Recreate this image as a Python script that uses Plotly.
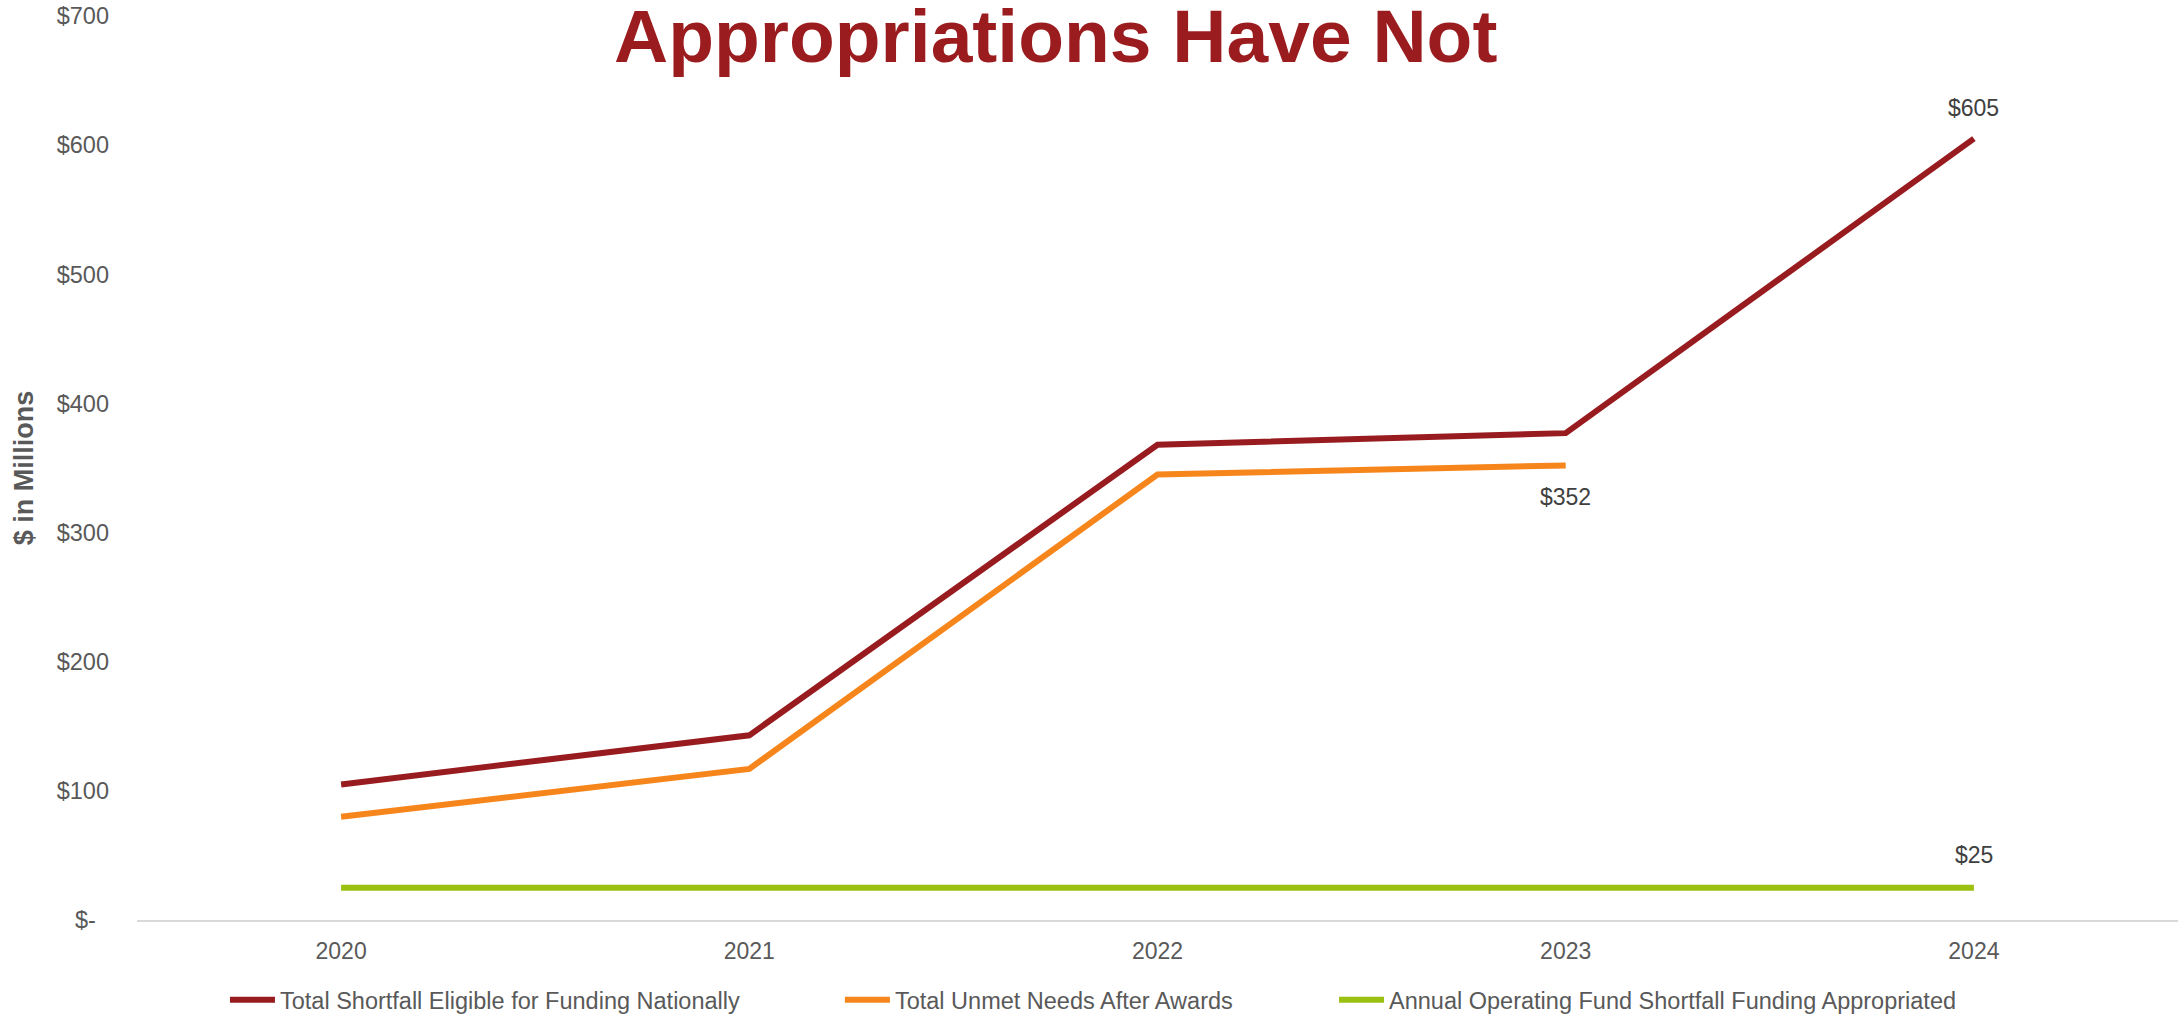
import plotly.graph_objects as go

# Funding data ($ in millions)
years = ["2020", "2021", "2022", "2023", "2024"]
total_shortfall = [105, 143, 368, 377, 605]
unmet_needs = [80, 117, 345, 352, None]
appropriated = [25, 25, 25, 25, 25]

series_names = [
    "Total Shortfall Eligible for Funding Nationally",
    "Total Unmet Needs After Awards",
    "Annual Operating Fund Shortfall Funding Appropriated",
]

y_tick_values = [0, 100, 200, 300, 400, 500, 600, 700]
y_tick_labels = ["$-\u00a0\u00a0", "$100", "$200", "$300", "$400", "$500", "$600", "$700"]

title_text = "Appropriations Have Not"

RED = "#981C1F"
ORANGE = "#F6861C"
GREEN = "#9CC00F"
FONT = "Liberation Sans, Arial, sans-serif"
LINE_W = 6

fig = go.Figure()
series = [
    (total_shortfall, series_names[0], RED, "legend"),
    (unmet_needs, series_names[1], ORANGE, "legend2"),
    (appropriated, series_names[2], GREEN, "legend3"),
]
for values, name, color, leg in series:
    fig.add_trace(go.Scatter(
        x=years, y=values, name=name, mode="lines",
        line=dict(color=color, width=LINE_W),
        legend=leg, connectgaps=False,
    ))

# Value labels on selected points: (series values, index, vertical offset)
value_labels = [
    (total_shortfall, 4, 31),
    (unmet_needs, 3, -32),
    (appropriated, 4, 33),
]
for values, idx, shift in value_labels:
    v = values[idx]
    # category axis: numeric x is the category index of years[idx]
    fig.add_annotation(
        x=idx, y=v, xref="x", yref="y",
        text=f"${v:,.0f}", showarrow=False, yshift=shift,
        font=dict(family=FONT, size=23, color="#404040"),
    )

# Title text at top
fig.add_annotation(
    x=0.4498, y=0.978, xref="paper", yref="paper",
    xanchor="center", yanchor="middle",
    text=f"<b>{title_text}</b>", showarrow=False,
    font=dict(family=FONT, size=75, color="#9B1C1F"),
)

legend_common = dict(
    orientation="h", yanchor="middle", xanchor="left", y=-0.0885,
    font=dict(family=FONT, size=23.5, color="#595959"),
    bgcolor="rgba(0,0,0,0)", borderwidth=0, itemwidth=45,
)

fig.update_layout(
    width=2182, height=1017,
    margin=dict(l=137, r=4, t=16, b=97, autoexpand=False),
    paper_bgcolor="white", plot_bgcolor="white",
    showlegend=True,
    legend=dict(x=0.0431, **legend_common),
    legend2=dict(x=0.3444, **legend_common),
    legend3=dict(x=0.5865, **legend_common),
    xaxis=dict(
        type="category", range=[-0.5, 4.5],
        showgrid=False, zeroline=False,
        showline=True, linecolor="#D9D9D9", linewidth=2,
        ticks="", ticklabelstandoff=9,
        tickfont=dict(family=FONT, size=23, color="#595959"),
        automargin=False,
    ),
    yaxis=dict(
        range=[0, 700], tickvals=y_tick_values, ticktext=y_tick_labels,
        showgrid=False, zeroline=False, showline=False,
        ticks="", ticklabelstandoff=27,
        tickfont=dict(family=FONT, size=23.5, color="#595959"),
        title=dict(text="<b>$ in Millions</b>", standoff=15,
                   font=dict(family=FONT, size=27, color="#595959")),
        automargin=False,
    ),
)

fig.write_html("out.html")
